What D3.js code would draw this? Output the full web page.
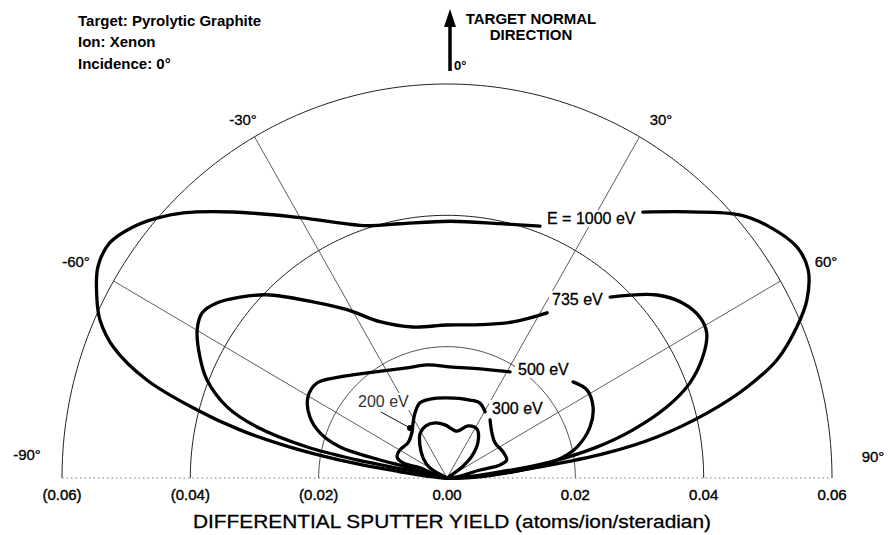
<!DOCTYPE html>
<html>
<head>
<meta charset="utf-8">
<script src="https://cdn.jsdelivr.net/npm/d3@7/dist/d3.min.js"></script>
<style>
  html, body { margin: 0; padding: 0; background: #fff; }
  svg { display: block; font-family: "Liberation Sans", Arial, Helvetica, sans-serif; }
</style>
</head>
<body>
<script>
// ---------------- DATA ----------------
// Emission angle (deg from target normal, + = right) and differential yield (atoms/ion/sr)
const e1000Angle = [37.0, 43.1, 48.7, 52.8, 57.2, 60.6, 64.2, 67.1, 70.7, 73.5, 76.3, 79.2, 81.3, 83.4, 86, 90,
                    -82.2, -80.7, -79.1, -77.2, -75.1, -72.3, -69.0, -66.0, -63.6, -59.4, -55.7, -52.0, -48.8, -45.5, -39.5, -30.0, -18.0, -10.7, 0.7, 12.0, 20.7];
const e1000Yield = [0.0507, 0.0555, 0.0607, 0.0632, 0.0649, 0.0646, 0.0623, 0.0592, 0.0545, 0.0488, 0.0417, 0.0333, 0.0252, 0.0146, 0.0067, 0,
                    0.0090, 0.0169, 0.0249, 0.0331, 0.0403, 0.0491, 0.0557, 0.0592, 0.0609, 0.0632, 0.0636, 0.0621, 0.0601, 0.0576, 0.0525, 0.0458, 0.0404, 0.0394, 0.0391, 0.0396, 0.0410];

const e735Angle = [42.7, 49.6, 54.1, 58.1, 61.4, 65.2, 69.1, 72.5, 75.8, 78.6, 81.4, 83.6, 90,
                   -79.0, -78.9, -77.8, -75.3, -72.5, -68.2, -64.4, -59.9, -56.6, -53.4, -49.5, -45.2, -37.9, -31.3, -23.7, -13.0, 0, 12.4, 23.4, 31.8];
const e735Yield = [0.0375, 0.0430, 0.0454, 0.0464, 0.0461, 0.0439, 0.0405, 0.0359, 0.0299, 0.0238, 0.0162, 0.0083, 0,
                   0.0064, 0.0143, 0.0223, 0.0306, 0.0359, 0.0403, 0.0427, 0.0450, 0.0457, 0.0447, 0.0424, 0.0396, 0.0340, 0.0300, 0.0260, 0.0236, 0.0233, 0.0239, 0.0259, 0.0296];

const e500Angle = [53.3, 58.4, 64.6, 70.8, 76.9, 80.9, 84.1, 90,
                   -75.0, -75.2, -74.2, -70.9, -66.5, -60.6, -54.5, -47.3, -35.5, -20.4, -10.3, 3.2, 17.2, 31.3];
const e500Yield = [0.0245, 0.0256, 0.0252, 0.0236, 0.0208, 0.0174, 0.0119, 0,
                   0.0065, 0.0119, 0.0173, 0.0209, 0.0233, 0.0249, 0.0249, 0.0227, 0.0198, 0.0179, 0.0175, 0.0169, 0.0174, 0.0189];

const e300Angle = [37.2, 45.6, 54.5, 65.6, 73.6, 76.5, 76.7, 90,
                   -70.0, -71.5, -67.7, -59.8, -48.7, -38.5, -32.3, -26.7, -20.2, -12.4, 0, 16.8, 24.2, 30.5];
const e300Yield = [0.0111, 0.0098, 0.0092, 0.0096, 0.0097, 0.0085, 0.0053, 0,
                   0.0045, 0.0072, 0.0084, 0.0085, 0.0081, 0.0088, 0.0099, 0.0111, 0.0122, 0.0123, 0.0122, 0.0124, 0.0125, 0.0117];

const e200Angle = [-90, -60, -50.8, -39.9, -31.5, -22.5, -12.6, -2.2, 12.3, 22.5, 32.1, 41.4, 49.3, 54.4, 90];
const e200Yield = [0, 0.0031, 0.0048, 0.0066, 0.0080, 0.0086, 0.0086, 0.0081, 0.0073, 0.0086, 0.0088, 0.0073, 0.0051, 0.0029, 0];

const energyLabels = ["E = 1000 eV", "735 eV", "500 eV", "300 eV", "200 eV"];

const yieldTicks = [-0.06, -0.04, -0.02, 0, 0.02, 0.04, 0.06];
const yieldTickLabels = ["(0.06)", "(0.04)", "(0.02)", "0.00", "0.02", "0.04", "0.06"];
const ringValues = [0.02, 0.04, 0.06];
const spokeAngles = [-60, -30, 30, 60];
const angleLabelValues = [-90, -60, -30, 30, 60, 90];
const angleLabelTexts = ["-90°", "-60°", "-30°", "30°", "60°", "90°"];
const infoLines = ["Target:  Pyrolytic Graphite", "Ion: Xenon", "Incidence: 0°"];
const axisTitle = "DIFFERENTIAL SPUTTER YIELD (atoms/ion/steradian)";

// ---------------- CHART ----------------
const W = 890, H = 535;
const svg = d3.select("body").append("svg").attr("width", W).attr("height", H);

const xScale = d3.scaleLinear().domain([-0.06, 0.06]).range([62, 832]);
const yScale = d3.scaleLinear().domain([0, 0.06]).range([478, 84]);
const rad = d => d * Math.PI / 180;
const px = (a, r) => xScale(r * Math.sin(rad(a)));
const py = (a, r) => yScale(r * Math.cos(rad(a)));

const grid = svg.append("g");
// rings
const ringLine = d3.line().x(a => px(a.a, a.r)).y(a => py(a.a, a.r));
ringValues.forEach((rv, i) => {
  const pts = d3.range(-90, 90.01, 1).map(a => ({a, r: rv}));
  grid.append("path").attr("d", ringLine(pts)).attr("fill", "none")
      .attr("stroke", "#222").attr("stroke-width", i === 0 ? 0.8 : 1);
});
// spokes
spokeAngles.forEach(a => {
  grid.append("line")
    .attr("x1", xScale(0)).attr("y1", yScale(0))
    .attr("x2", px(a, 0.06)).attr("y2", py(a, 0.06))
    .attr("stroke", "#333").attr("stroke-width", 0.8);
});
// baseline
grid.append("line")
  .attr("x1", xScale(-0.06)).attr("x2", xScale(0.06))
  .attr("y1", yScale(0)).attr("y2", yScale(0))
  .attr("stroke", "#666").attr("stroke-width", 0.9).attr("stroke-dasharray", "1.5,3");

// curves
const curveLine = d3.line().x(d => px(d[0], d[1])).y(d => py(d[0], d[1])).curve(d3.curveCatmullRom.alpha(0.5));
const series = [
  [e1000Angle, e1000Yield],
  [e735Angle, e735Yield],
  [e500Angle, e500Yield],
  [e300Angle, e300Yield],
  [e200Angle, e200Yield]
];
const curves = svg.append("g");
series.forEach(([A, Y]) => {
  const pts = A.map((a, i) => [a, Y[i]]);
  curves.append("path").attr("d", curveLine(pts)).attr("fill", "none")
    .attr("stroke", "#000").attr("stroke-width", 3.3)
    .attr("stroke-linejoin", "round").attr("stroke-linecap", "round");
});

// energy labels with white background
const labelPos = [[547, 224], [552, 305], [518, 375], [492, 414], [358, 407]];
const labG = svg.append("g");
energyLabels.forEach((t, i) => {
  const g = labG.append("g");
  const txt = g.append("text").attr("x", labelPos[i][0]).attr("y", labelPos[i][1])
    .attr("font-size", 16).attr("fill", i === 4 ? "#333" : "#000")
    .attr("stroke", i === 4 ? "none" : "#000").attr("stroke-width", 0.3).text(t);
  const bb = txt.node().getBBox();
  g.insert("rect", "text").attr("x", bb.x - 3).attr("y", bb.y).attr("width", bb.width + 6)
    .attr("height", bb.height).attr("fill", "#fff");
});
// 200 eV leader + dot
svg.append("line").attr("x1", 381).attr("y1", 412).attr("x2", 410).attr("y2", 428)
  .attr("stroke", "#111").attr("stroke-width", 1);
svg.append("circle").attr("cx", 410).attr("cy", 428).attr("r", 3).attr("fill", "#000");

// angle labels
const angPos = {"-90": [27, 460], "-60": [76, 267], "-30": [243, 125], "30": [661, 125], "60": [826, 267], "90": [873, 462]};
angleLabelValues.forEach((a, i) => {
  svg.append("text").attr("x", angPos[a][0]).attr("y", angPos[a][1]).attr("text-anchor", "middle")
    .attr("font-size", 15).attr("stroke", "#000").attr("stroke-width", 0.3).text(angleLabelTexts[i]);
});

// bottom tick labels
yieldTicks.forEach((v, i) => {
  svg.append("text").attr("x", xScale(v)).attr("y", 500).attr("text-anchor", "middle")
    .attr("font-size", 15).attr("stroke", "#000").attr("stroke-width", 0.4).text(yieldTickLabels[i]);
});
svg.append("text").attr("x", 452).attr("y", 528).attr("text-anchor", "middle")
  .attr("font-size", 19).attr("textLength", 518).attr("lengthAdjust", "spacingAndGlyphs")
  .attr("stroke", "#000").attr("stroke-width", 0.3).text(axisTitle);

// info text
infoLines.forEach((t, i) => {
  svg.append("text").attr("x", 78).attr("y", [26, 47, 69][i]).attr("font-size", 15)
    .attr("font-weight", "bold").text(t);
});

// target normal arrow
svg.append("line").attr("x1", 450).attr("x2", 450).attr("y1", 24).attr("y2", 71)
  .attr("stroke", "#000").attr("stroke-width", 3.5);
svg.append("path").attr("d", "M450,9 L456,27 L444,27 Z").attr("fill", "#000");
svg.append("text").attr("x", 454).attr("y", 70).attr("font-size", 13).attr("font-weight", "bold").text("0°");
svg.append("text").attr("x", 531).attr("y", 24).attr("text-anchor", "middle").attr("font-size", 15)
  .attr("font-weight", "bold").text("TARGET NORMAL");
svg.append("text").attr("x", 531).attr("y", 40).attr("text-anchor", "middle").attr("font-size", 15)
  .attr("font-weight", "bold").text("DIRECTION");
</script>
</body>
</html>
